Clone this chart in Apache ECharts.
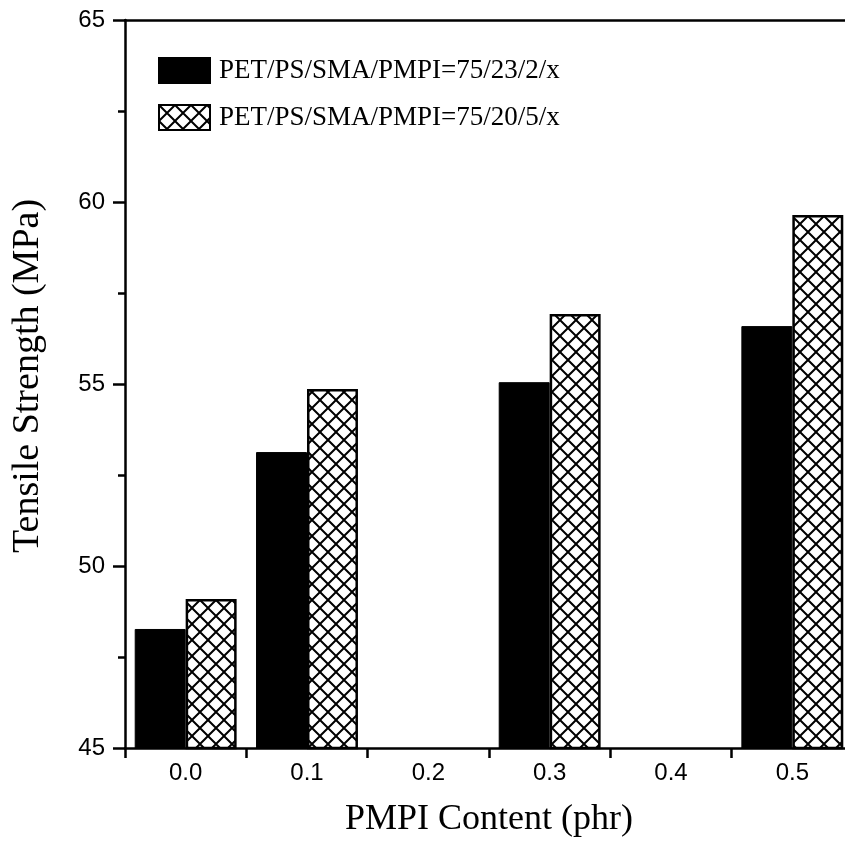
<!DOCTYPE html>
<html>
<head>
<meta charset="utf-8">
<script src="https://cdn.jsdelivr.net/npm/echarts@6/dist/echarts.min.js"></script>
<style>html,body{margin:0;padding:0;background:#fff;}#c{width:845px;height:844px;}</style>
</head>
<body>
<div id="c"></div>
<script>
const categories = ['0.0', '0.1', '0.2', '0.3', '0.4', '0.5'];
const seriesNames = ['PET/PS/SMA/PMPI=75/23/2/x', 'PET/PS/SMA/PMPI=75/20/5/x'];
const valuesA = [48.27, 53.13, null, 55.05, null, 56.59];
const valuesB = [49.09, 54.86, null, 56.92, null, 59.64];
const yMin = 45, yMax = 65, yInterval = 5;

function makeHatch() {
  const s = 16;
  const cv = document.createElement('canvas');
  cv.width = s; cv.height = s;
  const ctx = cv.getContext('2d');
  ctx.fillStyle = '#fff';
  ctx.fillRect(0, 0, s, s);
  ctx.strokeStyle = '#000';
  ctx.lineWidth = 2;
  ctx.beginPath();
  ctx.moveTo(-2, -2); ctx.lineTo(s + 2, s + 2);
  ctx.moveTo(s + 2, -2); ctx.lineTo(-2, s + 2);
  ctx.stroke();
  return cv;
}
const hatch = { image: makeHatch(), repeat: 'repeat' };

const chart = echarts.init(document.getElementById('c'), null, { renderer: 'canvas' });
const serif = '"Liberation Serif", "Times New Roman", serif';
const sans = '"Liberation Sans", Arial, sans-serif';
chart.setOption({
  backgroundColor: '#fff',
  animation: false,
  grid: { left: 125, width: 728, top: 20, bottom: 96, containLabel: false, outerBoundsMode: 'none' },
  legend: {
    orient: 'vertical',
    left: 158, top: 57, padding: 0,
    itemWidth: 51, itemHeight: 25, itemGap: 20,
    icon: 'rect',
    textStyle: { fontFamily: serif, fontSize: 27, color: '#000', padding: [0, 0, 0, 4] },
    data: seriesNames
  },
  xAxis: [{
    type: 'category',
    data: categories,
    position: 'bottom',
    name: 'PMPI Content (phr)',
    nameLocation: 'middle',
    nameGap: 54,
    nameTextStyle: { fontFamily: serif, fontSize: 36, color: '#000' },
    axisLine: { lineStyle: { color: '#000', width: 2.5 } },
    axisTick: { show: true, length: 10, interval: 0, lineStyle: { color: '#000', width: 2.5 } },
    axisLabel: { fontFamily: sans, fontSize: 24, color: '#000', margin: 13, interval: 0 }
  }, {
    type: 'category',
    data: categories,
    position: 'top',
    axisLine: { lineStyle: { color: '#000', width: 2.5 } },
    axisTick: { show: false },
    axisLabel: { show: false }
  }],
  yAxis: {
    type: 'value',
    min: yMin, max: yMax, interval: yInterval,
    name: 'Tensile Strength (MPa)',
    nameLocation: 'middle',
    nameGap: 78,
    nameTextStyle: { fontFamily: serif, fontSize: 38, color: '#000', padding: [0, 0, 0, 16] },
    axisLine: { show: true, lineStyle: { color: '#000', width: 2.5 } },
    axisTick: { show: true, length: 12, lineStyle: { color: '#000', width: 2.5 } },
    minorTick: { show: true, splitNumber: 2, length: 7, lineStyle: { color: '#000', width: 2.5 } },
    splitLine: { show: false },
    axisLabel: { fontFamily: sans, fontSize: 24, color: '#000', margin: 20 }
  },
  series: [{
    name: seriesNames[0],
    type: 'bar',
    data: valuesA,
    barWidth: '42%',
    barGap: '0%',
    itemStyle: { color: '#000', borderColor: '#000', borderWidth: 1 }
  }, {
    name: seriesNames[1],
    type: 'bar',
    data: valuesB,
    barWidth: '42%',
    barGap: '0%',
    itemStyle: { color: hatch, borderColor: '#000', borderWidth: 2.5 }
  }]
});
</script>
</body>
</html>
